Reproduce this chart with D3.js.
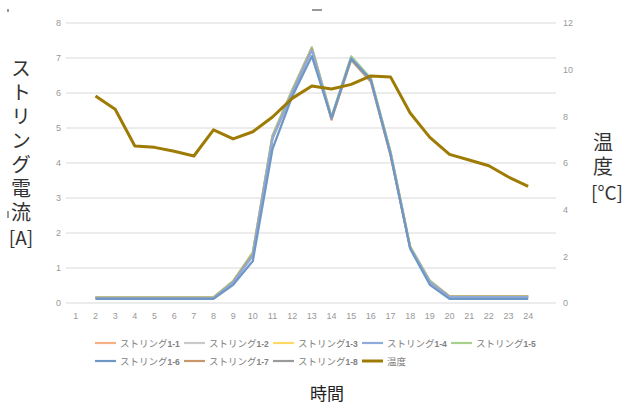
<!DOCTYPE html>
<html><head><meta charset="utf-8">
<script src="https://cdn.jsdelivr.net/npm/d3@7/dist/d3.min.js"></script>
<style>body{margin:0;background:#fff}svg{display:block;font-family:"Noto Sans CJK JP","Noto Sans",sans-serif}</style>
</head><body><svg id="c" width="628" height="405"></svg>
<script>
const hours = d3.range(1, 25);
const dataHours = d3.range(2, 25);
const leftTicks = [0,1,2,3,4,5,6,7,8];
const rightTicks = [0,2,4,6,8,10,12];
const s11 = [0.15,0.15,0.15,0.15,0.15,0.15,0.15,0.60,1.38,4.70,6.00,7.25,5.23,7.00,6.35,4.25,1.58,0.60,0.18,0.18,0.18,0.18,0.18];
const s12 = [0.15,0.15,0.15,0.15,0.15,0.15,0.15,0.60,1.40,4.75,6.05,7.28,5.30,7.02,6.40,4.30,1.60,0.62,0.18,0.18,0.18,0.18,0.18];
const s13 = [0.15,0.15,0.15,0.15,0.15,0.15,0.15,0.62,1.42,4.75,6.05,7.28,5.30,7.03,6.40,4.30,1.60,0.62,0.18,0.18,0.18,0.18,0.18];
const s14 = [0.13,0.13,0.13,0.13,0.13,0.13,0.13,0.58,1.35,4.70,6.00,7.22,5.28,7.00,6.38,4.28,1.58,0.60,0.17,0.17,0.17,0.17,0.17];
const s15 = [0.16,0.16,0.16,0.16,0.16,0.16,0.16,0.63,1.45,4.78,6.08,7.30,5.32,7.05,6.42,4.32,1.62,0.64,0.19,0.19,0.19,0.19,0.19];
const s16 = [0.12,0.12,0.12,0.12,0.12,0.12,0.12,0.52,1.20,4.40,5.90,7.05,5.28,6.98,6.38,4.25,1.55,0.52,0.12,0.12,0.12,0.12,0.12];
const s17 = [0.15,0.15,0.15,0.15,0.15,0.15,0.15,0.60,1.40,4.72,6.02,7.25,5.25,6.94,6.32,4.22,1.58,0.60,0.18,0.18,0.18,0.18,0.18];
const s18 = [0.16,0.16,0.16,0.16,0.16,0.16,0.16,0.62,1.43,4.78,6.08,7.30,5.30,7.02,6.40,4.32,1.60,0.63,0.19,0.19,0.19,0.19,0.19];
const temp = [8.87,8.30,6.73,6.67,6.50,6.30,7.42,7.03,7.34,7.97,8.77,9.30,9.17,9.37,9.73,9.69,8.14,7.10,6.37,6.13,5.88,5.40,5.00];
const seriesPrefix = "ストリング";
const seriesSuffix = ["1-1","1-2","1-3","1-4","1-5","1-6","1-7","1-8"];
const seriesColors = ["#F4B183","#C9C9C9","#FFD966","#8FAADC","#A9D18E","#6F97C4","#C9966A","#9A9A9A"];
const seriesValues = [s11,s12,s13,s14,s15,s16,s17,s18];
const tempName = "温度";
const tempColor = "#9E7B05";

const svg = d3.select("#c");
const x = d3.scaleBand().domain(hours).range([66, 538]).padding(0);
const cx = h => x(h) + x.bandwidth()/2;
const yL = d3.scaleLinear().domain([0, 8]).range([303, 23]);
const yR = d3.scaleLinear().domain([0, 12]).range([303, 23]);

// gridlines
svg.append("g").selectAll("line").data(leftTicks).join("line")
  .attr("x1", 66).attr("x2", 556).attr("y1", d => yL(d)).attr("y2", d => yL(d))
  .attr("stroke", "#e6e6e6").attr("stroke-width", 1.5);

const tickFont = "Liberation Sans Narrow, Liberation Sans, sans-serif";
const axL = svg.append("g").attr("transform", "translate(61,0)")
  .call(d3.axisLeft(yL).tickValues(leftTicks).tickSize(0).tickPadding(0));
axL.select(".domain").remove();
axL.selectAll("text").attr("fill", "#999").attr("font-size", 9).attr("font-family", tickFont);

const axR = svg.append("g").attr("transform", "translate(563,0)")
  .call(d3.axisRight(yR).tickValues(rightTicks).tickSize(0).tickPadding(0));
axR.select(".domain").remove();
axR.selectAll("text").attr("fill", "#999").attr("font-size", 9).attr("font-family", tickFont);

const axX = svg.append("g").attr("transform", "translate(0,310)")
  .call(d3.axisBottom(x).tickSize(0).tickPadding(3));
axX.select(".domain").remove();
axX.selectAll("text").attr("fill", "#999").attr("font-size", 9).attr("font-family", tickFont);

// lines
const lineL = d3.line().x((d,i) => cx(dataHours[i])).y(d => yL(d));
const lineR = d3.line().x((d,i) => cx(dataHours[i])).y(d => yR(d));
const order = [7,0,1,2,4,6,3,5];
order.forEach(k => {
  svg.append("path").attr("d", lineL(seriesValues[k])).attr("fill", "none")
    .attr("stroke", seriesColors[k]).attr("stroke-width", 2.2).attr("stroke-linejoin", "round");
});
svg.append("path").attr("d", lineR(temp)).attr("fill", "none")
  .attr("stroke", tempColor).attr("stroke-width", 3).attr("stroke-linejoin", "round");

// legend
const legendItems = seriesSuffix.map((s,i) => ({pre: seriesPrefix, suf: s, color: seriesColors[i], w: 2.2}))
  .concat([{pre: tempName, suf: "", color: tempColor, w: 3}]);
const lg = svg.append("g");
legendItems.forEach((it, i) => {
  const row = i < 5 ? 0 : 1;
  const col = i < 5 ? i : i - 5;
  const lx = 95 + col * 89, ly = 343 + row * 18;
  lg.append("line").attr("x1", lx).attr("x2", lx + 21).attr("y1", ly).attr("y2", ly)
    .attr("stroke", it.color).attr("stroke-width", it.w);
  const t = lg.append("text").attr("x", lx + 25).attr("y", ly + 3.5).attr("fill", "#808080");
  t.append("tspan").attr("font-size", 9.5).text(it.pre);
  if (it.suf) t.append("tspan").attr("font-size", 8.5).attr("font-weight", "bold")
    .attr("font-family", "Liberation Sans, sans-serif").text(it.suf);
});

// axis titles (vertical writing)
svg.append("text").attr("x", 21).attr("y", 58)
  .style("writing-mode", "vertical-rl").style("letter-spacing", "4px")
  .attr("font-size", 20).attr("fill", "#333").text("ストリング電流");
svg.append("text").attr("x", 21).attr("y", 245).attr("text-anchor", "middle")
  .attr("font-size", 19).attr("fill", "#333").text("[A]");
svg.append("text").attr("x", 603).attr("y", 132)
  .style("writing-mode", "vertical-rl").style("letter-spacing", "4px")
  .attr("font-size", 20).attr("fill", "#333").text("温度");
svg.append("text").attr("x", 607).attr("y", 200).attr("text-anchor", "middle")
  .attr("font-size", 19).attr("fill", "#333").text("[°C]");
svg.append("text").attr("x", 327).attr("y", 400).attr("text-anchor", "middle")
  .attr("font-size", 17).attr("fill", "#222").text("時間");

// small artifacts
svg.append("rect").attr("x", 7).attr("y", 9).attr("width", 2).attr("height", 3).attr("fill", "#999");
svg.append("rect").attr("x", 312).attr("y", 9).attr("width", 10).attr("height", 2).attr("fill", "#999");
svg.append("rect").attr("x", 7).attr("y", 211).attr("width", 2).attr("height", 7).attr("fill", "#999");
</script></body></html>
